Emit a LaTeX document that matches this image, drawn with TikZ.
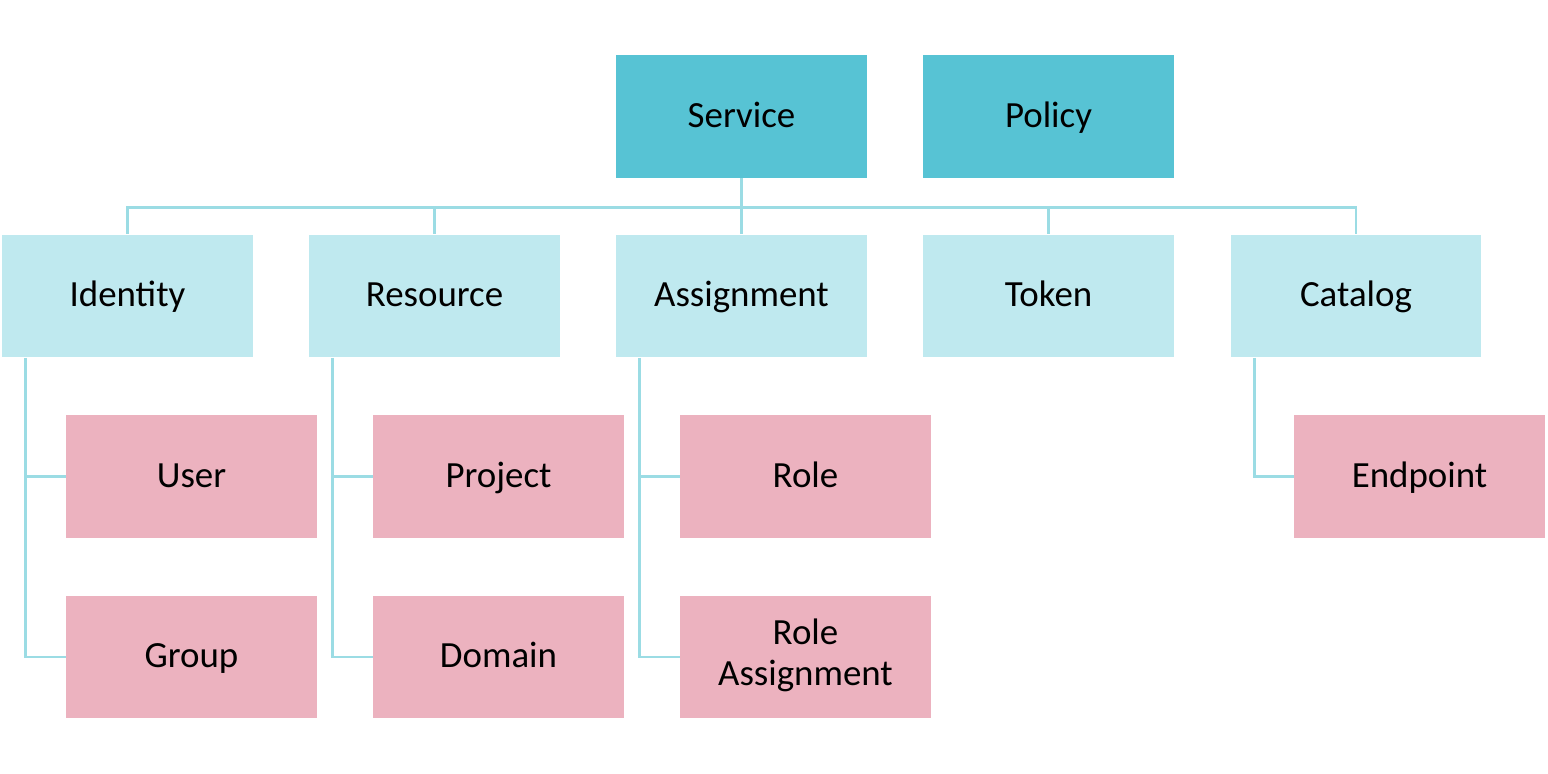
\documentclass[tikz,border=0pt]{standalone}
\usepackage{fontspec}
\setmainfont{Carlito}

\definecolor{topfill}{HTML}{57C3D4}
\definecolor{midfill}{HTML}{BFE9EF}
\definecolor{leaffill}{HTML}{ECB2BF}
\definecolor{linkcol}{HTML}{9BDCE4}

\tikzset{
  box/.style={shape=rectangle,minimum width=5.02cm,minimum height=2.46cm,
    inner sep=0pt,font=\fontsize{21}{22.8}\selectfont},
  oneline/.style={text height=14pt,text depth=2pt},
  topbox/.style={box,oneline,fill=topfill},
  midbox/.style={box,oneline,fill=midfill},
  leafbox/.style={box,oneline,fill=leaffill},
  leafbox2/.style={box,fill=leaffill},
  link/.style={draw=linkcol,line width=1.6pt}
}

\begin{document}
\begin{tikzpicture}[x=0.02cm,y=-0.02cm]

  \useasboundingbox (0,0) rectangle (1548,774);

  \draw (741.5,116.5) node [topbox] (service) {Service};
  \draw (1048.5,116.5) node [topbox] (policy) {Policy};

  \draw (127.5,296) node [midbox] (identity) {Identity};
  \draw (434.5,296) node [midbox] (resource) {Resource};
  \draw (741.5,296) node [midbox] (assign) {Assignment};
  \draw (1048.5,296) node [midbox] (token) {Token};
  \draw (1356,296) node [midbox] (catalog) {Catalog};

  \draw (191.5,476.5) node [leafbox] (user) {User};
  \draw (191.5,657) node [leafbox] (group) {Group};
  \draw (498.5,476.5) node [leafbox] (project) {Project};
  \draw (498.5,657) node [leafbox] (domain) {Domain};
  \draw (805.5,476.5) node [leafbox] (role) {Role};
  \draw (805.5,657) node [leafbox2] (roleassign)
  {\begin{tabular}{c}Role\\Assignment\end{tabular}};
  \draw (1419.5,476.5) node [leafbox] (endpoint) {Endpoint};

  \draw[link] (service.south) -- ++(0,29) -| (identity.north);
  \draw[link] (service.south) -- ++(0,29) -| (resource.north);
  \draw[link] (service.south) -- (assign.north);
  \draw[link] (service.south) -- ++(0,29) -| (token.north);
  \draw[link] (service.south) -- ++(0,29) -| (catalog.north);

  \draw[link] ([xshift=0.48cm]identity.south west) |- (user.west);
  \draw[link] ([xshift=0.48cm]identity.south west) |- (group.west);
  \draw[link] ([xshift=0.48cm]resource.south west) |- (project.west);
  \draw[link] ([xshift=0.48cm]resource.south west) |- (domain.west);
  \draw[link] ([xshift=0.48cm]assign.south west) |- (role.west);
  \draw[link] ([xshift=0.48cm]assign.south west) |- (roleassign.west);
  \draw[link] ([xshift=0.48cm]catalog.south west) |- (endpoint.west);

\end{tikzpicture}
\end{document}
